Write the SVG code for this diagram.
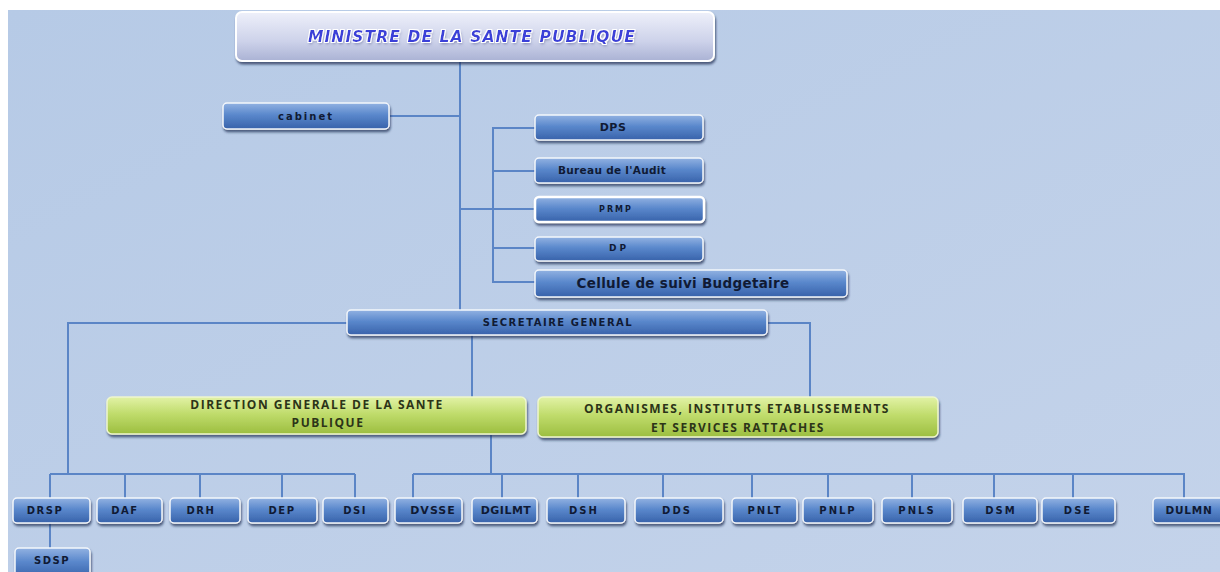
<svg xmlns="http://www.w3.org/2000/svg" width="1220" height="572" viewBox="0 0 1220 572">
<defs>
<linearGradient id="bg" x1="0" y1="0" x2="1" y2="1">
<stop offset="0" stop-color="#b6cae6"/>
<stop offset="1" stop-color="#c4d3ea"/>
</linearGradient>
<linearGradient id="blue" x1="0" y1="0" x2="0" y2="1">
<stop offset="0" stop-color="#92b2e2"/>
<stop offset="0.45" stop-color="#5a88cc"/>
<stop offset="1" stop-color="#3862aa"/>
</linearGradient>
<linearGradient id="lav" x1="0" y1="0" x2="0" y2="1">
<stop offset="0" stop-color="#eef0fa"/>
<stop offset="0.6" stop-color="#cdd2ea"/>
<stop offset="1" stop-color="#aab2d4"/>
</linearGradient>
<linearGradient id="green" x1="0" y1="0" x2="0" y2="1">
<stop offset="0" stop-color="#e2f2a6"/>
<stop offset="0.45" stop-color="#c0dc6c"/>
<stop offset="1" stop-color="#9cbe40"/>
</linearGradient>
<filter id="sh" x="-10%" y="-20%" width="120%" height="160%">
<feDropShadow dx="1" dy="2.5" stdDeviation="1.2" flood-color="#1a2a50" flood-opacity="0.7"/>
</filter>
<filter id="tg" x="-5%" y="-30%" width="110%" height="160%">
<feMorphology in="SourceAlpha" operator="dilate" radius="1.2" result="d"/>
<feFlood flood-color="#ffffff"/>
<feComposite in2="d" operator="in" result="w"/>
<feGaussianBlur in="SourceAlpha" stdDeviation="1.5" result="b"/>
<feOffset in="b" dx="1" dy="2" result="o"/>
<feFlood flood-color="#404880" flood-opacity="0.6"/>
<feComposite in2="o" operator="in" result="s"/>
<feMerge><feMergeNode in="s"/><feMergeNode in="w"/><feMergeNode in="SourceGraphic"/></feMerge>
</filter>
</defs>
<style>
.b{fill:url(#blue);stroke:#f4f7fc;stroke-width:1.5;filter:url(#sh)}
.g{fill:url(#green);stroke:#eef6d0;stroke-width:1.5;filter:url(#sh)}
.l{fill:url(#lav);stroke:#ffffff;stroke-width:2;filter:url(#sh)}
.t{font-family:"DejaVu Sans",Verdana,sans-serif;font-weight:bold;fill:#101a34;text-anchor:middle;dominant-baseline:central}
.s{font-size:10px;letter-spacing:1.5px}
.m{font-size:10px;letter-spacing:2px}
.gt{font-family:"Open Sans","Liberation Sans",sans-serif;font-weight:bold;fill:#2c3418;text-anchor:middle;font-size:12px;letter-spacing:1.5px}
.c{fill:none;stroke:#5b85c6;stroke-width:2}
</style>
<rect x="0" y="0" width="1220" height="572" fill="#ffffff"/>
<rect x="8" y="10" width="1212" height="562" fill="url(#bg)"/>
<g id="connectors">
<path class="c" d="M460 62V310"/>
<path class="c" d="M390 116H460"/>
<path class="c" d="M460 209H535"/>
<path class="c" d="M535 128H493V282H535M493 171H535M493 248H535"/>
<path class="c" d="M347 323H68V474"/>
<path class="c" d="M768 323H810V397"/>
<path class="c" d="M472 335V397"/>
<path class="c" d="M491 435V474M413 474H1185M413 474V498M502 474V498M578 474V498M663 474V498M752 474V498M828 474V498M912 474V498M994 474V498M1073 474V498M1184 474V498"/>
<path class="c" d="M50 474H355M50 474V498M125 474V498M200 474V498M282 474V498M355 474V498"/>
<path class="c" d="M50 523V548"/>
</g>
<g id="ministre"><rect class="l" x="236" y="12" width="478" height="49" rx="6"/>
<text x="472" y="37" dominant-baseline="central" text-anchor="middle" font-family="DejaVu Sans,Verdana,sans-serif" font-weight="bold" font-style="italic" font-size="15.5" fill="#3b3fd8" letter-spacing="1.1" filter="url(#tg)">MINISTRE DE LA SANTE PUBLIQUE</text></g>
<g id="cabinet"><rect class="b" x="223" y="103" width="166" height="26" rx="4"/><text class="t" x="306" y="116" font-size="10" letter-spacing="2">cabinet</text></g>
<g id="dps"><rect class="b" x="535" y="115" width="168" height="25" rx="4"/><text class="t" x="613" y="127" font-size="11" letter-spacing="0.5">DPS</text></g>
<g id="audit"><rect class="b" x="535" y="158" width="168" height="25" rx="4"/><text class="t" x="612" y="170" font-size="10.5" letter-spacing="0.3">Bureau de l'Audit</text></g>
<g id="prmp"><rect class="b" x="535" y="197" width="169" height="25" rx="4" style="stroke-width:2.5;stroke:#ffffff"/><text class="t" x="616" y="209" font-size="8" letter-spacing="2">PRMP</text></g>
<g id="dp"><rect class="b" x="535" y="237" width="168" height="24" rx="4"/><text class="t" x="619" y="248" font-size="9" letter-spacing="3">DP</text></g>
<g id="cellule"><rect class="b" x="535" y="270" width="312" height="27" rx="4"/><text class="t" x="683" y="283" font-size="13.5" letter-spacing="0.3">Cellule de suivi Budgetaire</text></g>
<g id="sg"><rect class="b" x="347" y="310" width="420" height="25" rx="4"/><text class="t" x="558" y="322" font-size="10" letter-spacing="1.5">SECRETAIRE  GENERAL</text></g>
<g id="dgsp"><rect class="g" x="107" y="397" width="419" height="37" rx="5"/><text class="gt" x="317" y="409">DIRECTION GENERALE DE LA SANTE</text><text class="gt" x="328" y="427">PUBLIQUE</text></g>
<g id="organismes"><rect class="g" x="538" y="397" width="400" height="40" rx="5"/><text class="gt" x="737" y="413" letter-spacing="1.6">ORGANISMES, INSTITUTS ETABLISSEMENTS</text><text class="gt" x="738" y="432">ET SERVICES RATTACHES</text></g>
<g id="drsp"><rect class="b" x="13" y="498" width="77" height="25" rx="4"/><text class="t s" x="45" y="510">DRSP</text></g>
<g id="daf"><rect class="b" x="97" y="498" width="65" height="25" rx="4"/><text class="t s" x="125" y="510">DAF</text></g>
<g id="drh"><rect class="b" x="170" y="498" width="70" height="25" rx="4"/><text class="t s" x="201" y="510">DRH</text></g>
<g id="dep"><rect class="b" x="248" y="498" width="69" height="25" rx="4"/><text class="t s" x="282" y="510">DEP</text></g>
<g id="dsi"><rect class="b" x="323" y="498" width="65" height="25" rx="4"/><text class="t s" x="355" y="510">DSI</text></g>
<g id="dvsse"><rect class="b" x="395" y="498" width="67" height="25" rx="4"/><text class="t" x="433" y="510" font-size="11" letter-spacing="1">DVSSE</text></g>
<g id="dgilmt"><rect class="b" x="472" y="498" width="65" height="25" rx="4"/><text class="t" x="506" y="510" font-size="11" letter-spacing="0.5">DGILMT</text></g>
<g id="dsh"><rect class="b" x="547" y="498" width="78" height="25" rx="4"/><text class="t m" x="584" y="510">DSH</text></g>
<g id="dds"><rect class="b" x="635" y="498" width="88" height="25" rx="4"/><text class="t m" x="677" y="510">DDS</text></g>
<g id="pnlt"><rect class="b" x="732" y="498" width="65" height="25" rx="4"/><text class="t m" x="765" y="510">PNLT</text></g>
<g id="pnlp"><rect class="b" x="803" y="498" width="70" height="25" rx="4"/><text class="t m" x="838" y="510">PNLP</text></g>
<g id="pnls"><rect class="b" x="882" y="498" width="70" height="25" rx="4"/><text class="t m" x="917" y="510">PNLS</text></g>
<g id="dsm"><rect class="b" x="963" y="498" width="74" height="25" rx="4"/><text class="t m" x="1001" y="510">DSM</text></g>
<g id="dse"><rect class="b" x="1042" y="498" width="73" height="25" rx="4"/><text class="t m" x="1078" y="510">DSE</text></g>
<g id="dulmn"><rect class="b" x="1153" y="498" width="72" height="25" rx="4"/><text class="t" x="1189" y="510" font-size="10.5" letter-spacing="0.8">DULMN</text></g>
<g id="sdsp"><rect class="b" x="15" y="548" width="75" height="30" rx="4"/><text class="t s" x="52" y="560">SDSP</text></g>
</svg>
